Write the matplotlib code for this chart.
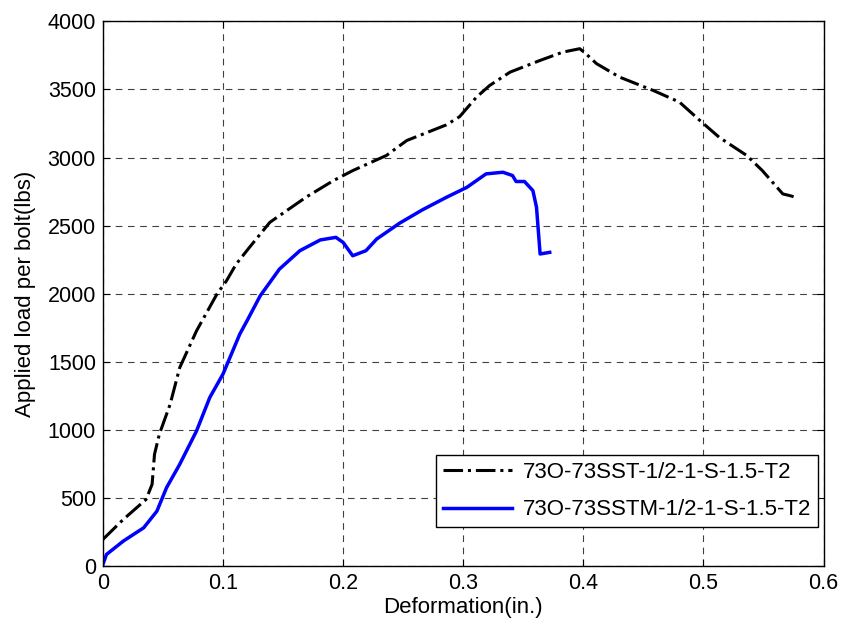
import matplotlib.pyplot as plt
import numpy as np

# black dash-dot curve (73O-73SST)
sst_x = [0.000, 0.017, 0.036, 0.041, 0.043, 0.047, 0.056, 0.064, 0.078, 0.095, 0.103,
         0.111, 0.122, 0.139, 0.153, 0.169, 0.192, 0.208, 0.236, 0.253, 0.286, 0.297,
         0.311, 0.322, 0.339, 0.364, 0.383, 0.397, 0.402, 0.411, 0.430, 0.458, 0.480,
         0.497, 0.513, 0.536, 0.549, 0.566, 0.572, 0.577]
sst_y = [196, 343, 490, 601, 821, 968, 1188, 1458, 1728, 1998, 2096,
         2218, 2340, 2524, 2610, 2708, 2831, 2904, 3015, 3125, 3240, 3300,
         3443, 3529, 3627, 3713, 3774, 3799, 3763, 3689, 3591, 3493, 3407,
         3272, 3149, 3015, 2904, 2733, 2720, 2708]

# blue solid curve (73O-73SSTM)
sstm_x = [0.000, 0.003, 0.017, 0.034, 0.045, 0.053, 0.064, 0.078, 0.089, 0.100, 0.114,
          0.120, 0.131, 0.147, 0.164, 0.181, 0.194, 0.200, 0.208, 0.219, 0.228, 0.247,
          0.266, 0.286, 0.303, 0.319, 0.333, 0.341, 0.344, 0.351, 0.358, 0.361, 0.364,
          0.372]
sstm_y = [12, 86, 184, 282, 404, 576, 748, 993, 1238, 1410, 1704,
          1801, 1985, 2181, 2316, 2395, 2414, 2377, 2279, 2316, 2402, 2518,
          2616, 2708, 2781, 2880, 2892, 2868, 2824, 2824, 2757, 2635, 2292,
          2304]

labels = ["73O-73SST-1/2-1-S-1.5-T2", "73O-73SSTM-1/2-1-S-1.5-T2"]

plt.rcParams['font.family'] = ['Liberation Sans', 'DejaVu Sans']
fig = plt.figure(figsize=(8.43, 6.27), dpi=100)
ax = fig.add_axes([0.122, 0.097, 0.855, 0.869])

ax.plot(sst_x, sst_y, color='black', linestyle='-.', linewidth=2.2, label=labels[0])
ax.plot(sstm_x, sstm_y, color='blue', linestyle='-', linewidth=2.5, label=labels[1])

ax.set_xlim(0, 0.6)
ax.set_ylim(0, 4000)
ax.set_xticks(np.arange(0, 0.61, 0.1))
ax.set_xticklabels(['0', '0.1', '0.2', '0.3', '0.4', '0.5', '0.6'])
ax.set_yticks(np.arange(0, 4001, 500))
ax.grid(True, color='black', linestyle=(0, (6, 5)), linewidth=0.8, alpha=0.75)
ax.tick_params(direction='in', top=True, right=True, labelsize=15.5, length=5, pad=5)
for s in ax.spines.values():
    s.set_linewidth(1.0)

ax.set_xlabel("Deformation(in.)", fontsize=16, labelpad=2)
ax.set_ylabel("Applied load per bolt(lbs)", fontsize=16, labelpad=8)

leg = ax.legend(loc='lower right', bbox_to_anchor=(0.992, 0.072), borderaxespad=0,
                fontsize=16, fancybox=False, framealpha=1, edgecolor='black',
                borderpad=0.3, handlelength=3.1, handletextpad=0.5, labelspacing=0.75)
leg.get_frame().set_linewidth(1.0)

fig.savefig("out.png", dpi=100)
